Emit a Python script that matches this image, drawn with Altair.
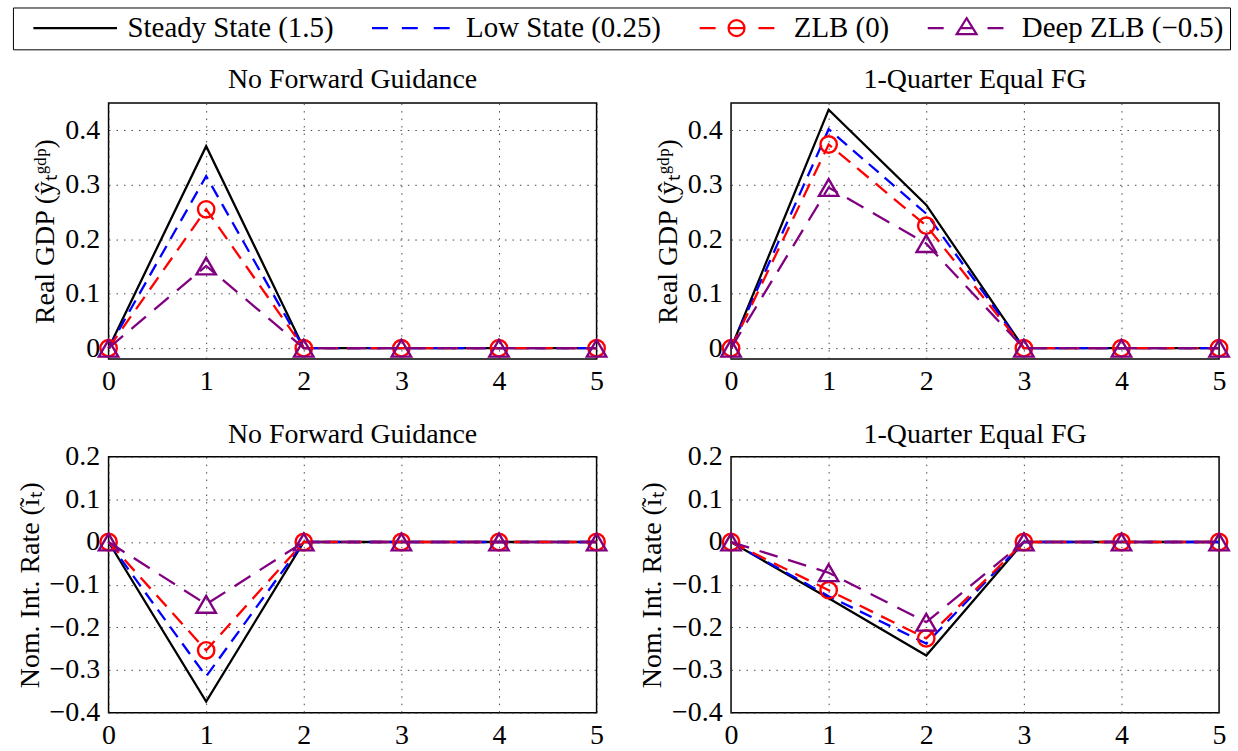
import altair as alt
import pandas as pd

T = [0, 1, 2, 3, 4, 5]
SERIES = ["Steady State (1.5)", "Low State (0.25)", "ZLB (0)", "Deep ZLB (−0.5)"]
COLORS = ["#000000", "#0000ff", "#ff0000", "#800080"]
DASHES = [None, [13, 8], [15, 9], [19, 11]]
MARKERS = [None, None, "circle", "triangle-up"]

# Real GDP, No Forward Guidance
gdp_nofg_steady = [0, 0.371, 0, 0, 0, 0]
gdp_nofg_low = [0, 0.316, 0, 0, 0, 0]
gdp_nofg_zlb = [0, 0.255, 0, 0, 0, 0]
gdp_nofg_deep = [0, 0.151, 0, 0, 0, 0]

# Real GDP, 1-Quarter Equal FG
gdp_fg_steady = [0, 0.438, 0.263, 0, 0, 0]
gdp_fg_low = [0, 0.402, 0.247, 0, 0, 0]
gdp_fg_zlb = [0, 0.374, 0.225, 0, 0, 0]
gdp_fg_deep = [0, 0.295, 0.192, 0, 0, 0]

# Nominal interest rate, No Forward Guidance
rate_nofg_steady = [0, -0.374, 0, 0, 0, 0]
rate_nofg_low = [0, -0.315, 0, 0, 0, 0]
rate_nofg_zlb = [0, -0.254, 0, 0, 0, 0]
rate_nofg_deep = [0, -0.146, 0, 0, 0, 0]

# Nominal interest rate, 1-Quarter Equal FG
rate_fg_steady = [0, -0.132, -0.266, 0, 0, 0]
rate_fg_low = [0, -0.127, -0.238, 0, 0, 0]
rate_fg_zlb = [0, -0.113, -0.226, 0, 0, 0]
rate_fg_deep = [0, -0.072, -0.188, 0, 0, 0]

GDP_TICKS = [0, 0.1, 0.2, 0.3, 0.4]
RATE_TICKS = [-0.4, -0.3, -0.2, -0.1, 0, 0.1, 0.2]

FONT = "Liberation Serif"
FS = 28

# legend glyphs (line sample + marker), unit = 10 px
SYM_STEADY = "M0,0L8.4,0"
SYM_LOW = "M0,0L1.6,0M3,0L4.6,0M6.2,0L7.8,0"
SYM_ZLB = "M0,0L1.6,0M2.9,0A0.8,0.8,0,1,1,4.5,0A0.8,0.8,0,1,1,2.9,0M2.9,0L4.5,0M5.9,0L7.5,0"
SYM_DEEP = "M0,0L1.6,0M3.9,-1L4.9,0.6L2.9,0.6ZM3.3,0L4.5,0M6,0L7.6,0"
LEGEND_SHAPES = [SYM_STEADY, SYM_LOW, SYM_ZLB, SYM_DEEP]

legend = alt.Legend(
    title=None,
    orient="none",
    legendX=-96,
    legendY=-96,
    direction="horizontal",
    columns=4,
    columnPadding=24,
    padding=6,
    strokeColor="black",
    fillColor="white",
    labelFont=FONT,
    labelFontSize=29,
    labelColor="black",
    labelLimit=600,
    labelOffset=80,
    symbolSize=400,
    symbolStrokeWidth=2.2,
)

color_scale = alt.Scale(domain=SERIES, range=COLORS)
shape_scale = alt.Scale(domain=SERIES, range=LEGEND_SHAPES)


def panel(series_vals, title, ytitle, ydomain, yticks, show_legend, title_offset):
    xaxis = alt.Axis(values=T, format="d", grid=True, ticks=False, domain=False,
                     labelPadding=9, labelFlush=False, title=None)
    yaxis = alt.Axis(values=yticks, grid=True, ticks=False, domain=False,
                     labelPadding=9, titlePadding=5, title=ytitle, labelFlush=False,
                     labelExpr="datum.value == 0 ? '0' : format(datum.value, '.1f')")
    xenc = alt.X("t:Q", scale=alt.Scale(domain=[0, 5], nice=False), axis=xaxis)
    yenc = alt.Y("v:Q", scale=alt.Scale(domain=ydomain, nice=False, zero=False), axis=yaxis)
    layers = []
    for i, (name, vals) in enumerate(zip(SERIES, series_vals)):
        df = pd.DataFrame({"t": T, "v": vals, "series": name})
        base = alt.Chart(df)
        kw = dict(strokeWidth=2.3, color=COLORS[i])
        if DASHES[i]:
            kw["strokeDash"] = DASHES[i]
        layers.append(base.mark_line(**kw).encode(x=xenc, y=yenc))
        if MARKERS[i]:
            pts = base.mark_point(shape=MARKERS[i], size=270 if MARKERS[i] == "circle" else 380,
                                  filled=False, strokeWidth=2.4, color=COLORS[i], opacity=1).encode(
                x=xenc, y=yenc)
            layers.append(pts)
    if show_legend:
        df = pd.DataFrame({"t": T, "v": series_vals[0], "series": SERIES[0]})
        dummy = alt.Chart(df).transform_filter("false").mark_point(
            size=400, filled=False, strokeWidth=2.2, opacity=1
        ).encode(
            x=xenc, y=yenc,
            color=alt.Color("series:N", scale=color_scale, legend=legend),
            shape=alt.Shape("series:N", scale=shape_scale, legend=legend),
        )
        layers.append(dummy)
    return alt.layer(*layers).properties(
        width=490, height=257,
        title=alt.Title(title, font=FONT, fontSize=FS, fontWeight="normal", color="black",
                        offset=title_offset),
    )


GDP_TITLE = "Real GDP (ŷₜᵍᵈᵖ)"
RATE_TITLE = "Nom. Int. Rate (ĩₜ)"

p1 = panel([gdp_nofg_steady, gdp_nofg_low, gdp_nofg_zlb, gdp_nofg_deep],
           "No Forward Guidance", GDP_TITLE, [-0.02, 0.45], GDP_TICKS, True, 9)
p2 = panel([gdp_fg_steady, gdp_fg_low, gdp_fg_zlb, gdp_fg_deep],
           "1-Quarter Equal FG", GDP_TITLE, [-0.02, 0.45], GDP_TICKS, False, 9)
p3 = panel([rate_nofg_steady, rate_nofg_low, rate_nofg_zlb, rate_nofg_deep],
           "No Forward Guidance", RATE_TITLE, [-0.4, 0.2], RATE_TICKS, False, -6)
p4 = panel([rate_fg_steady, rate_fg_low, rate_fg_zlb, rate_fg_deep],
           "1-Quarter Equal FG", RATE_TITLE, [-0.4, 0.2], RATE_TICKS, False, -6)

chart = alt.concat(
    p1, p2, p3, p4, columns=2,
    spacing=alt.RowColnumber(row=98, column=135),
    bounds="flush",
).properties(
    padding={"left": 12, "top": 5, "right": 3, "bottom": 3},
    background="white",
).configure_view(
    stroke="black", strokeWidth=1.5,
).configure_axis(
    labelFont=FONT, labelFontSize=FS, labelColor="black",
    titleFont=FONT, titleFontSize=FS, titleFontWeight="normal", titleColor="black",
    gridColor="#333333", gridDash=[1.5, 6], gridWidth=1, gridOpacity=0.9,
)

chart.save("out.html", embed_options={"renderer": "svg", "actions": False})
